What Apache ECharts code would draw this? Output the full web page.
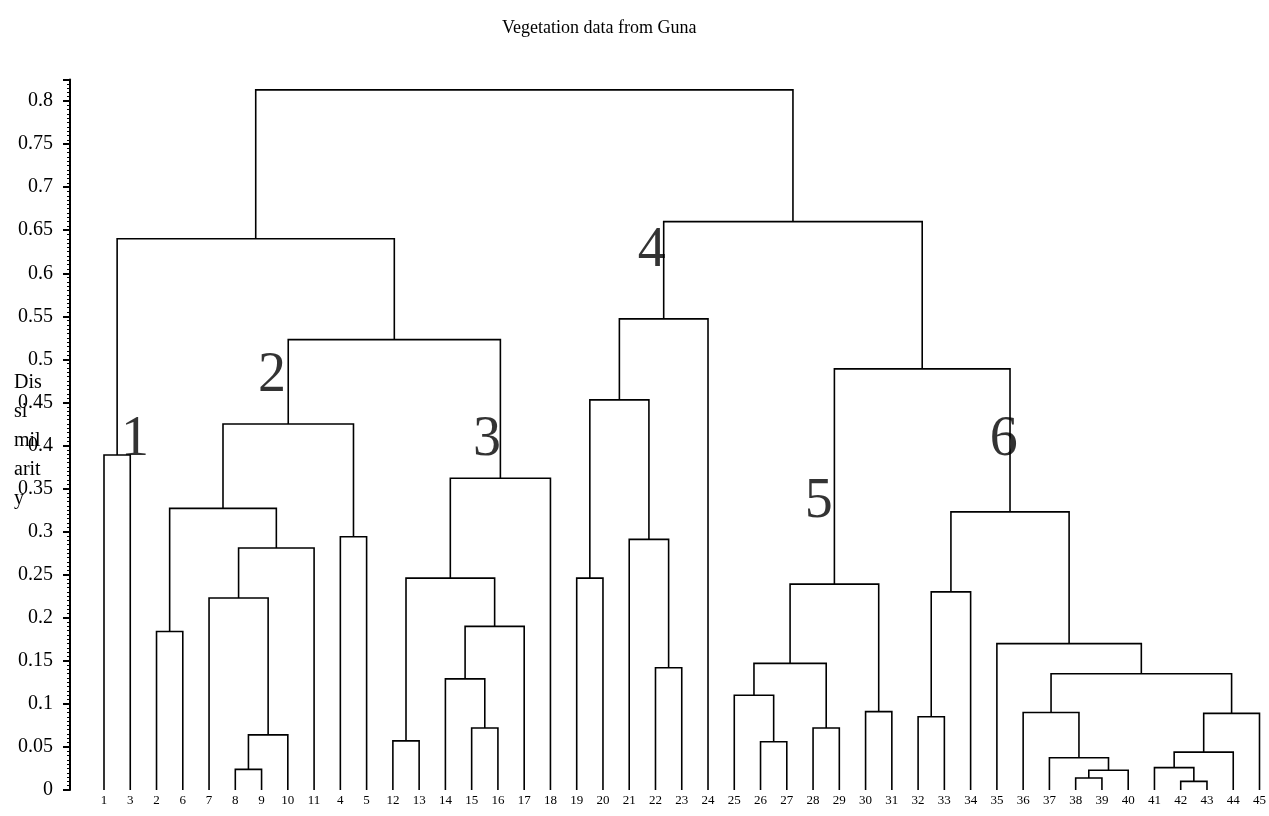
<!DOCTYPE html>
<html>
<head>
<meta charset="utf-8">
<title>Vegetation data from Guna</title>
<script src="https://cdn.jsdelivr.net/npm/echarts@6/dist/echarts.min.js"></script>
<style>
  html, body { margin: 0; padding: 0; background: #fff; }
  #chart { width: 1269px; height: 816px; }
</style>
</head>
<body>
<div id="chart"></div>
<script>
// Leaf order along the bottom of the dendrogram (site numbers)
const leafLabels = ['1','3','2','6','7','8','9','10','11','4','5','12','13','14','15','16','17','18',
  '19','20','21','22','23','24','25','26','27','28','29','30','31','32','33','34','35','36','37',
  '38','39','40','41','42','43','44','45'];

// Agglomeration steps: node ids 0..44 are leaves (by position), merge k creates node 45 + k
const mergeLeft  = [0, 2, 5, 47, 4, 49, 46, 9, 51, 11, 14, 13, 56, 54, 58, 53, 45,
  18, 21, 20, 62, 65, 25, 24, 27, 68, 29, 70, 31, 73, 37, 75, 36, 35, 41, 40, 80, 81, 78, 34, 74, 72, 66, 61];
const mergeRight = [1, 3, 6, 7, 48, 8, 50, 10, 52, 12, 15, 55, 16, 57, 17, 59, 60,
  19, 22, 63, 64, 23, 26, 67, 28, 69, 30, 71, 32, 33, 38, 39, 76, 77, 42, 79, 43, 44, 82, 83, 84, 85, 86, 87];
const mergeHeight = [0.389, 0.184, 0.024, 0.064, 0.223, 0.281, 0.327, 0.294, 0.425, 0.057, 0.072, 0.129, 0.190, 0.246, 0.362, 0.523, 0.640,
  0.246, 0.142, 0.291, 0.453, 0.547, 0.056, 0.110, 0.072, 0.147, 0.091, 0.239, 0.085, 0.230, 0.014, 0.023, 0.0375, 0.090, 0.010, 0.026, 0.044, 0.089, 0.135, 0.170, 0.323, 0.489, 0.660, 0.813];

// Cluster group numbers written on the tree
const groupNames  = ['1', '2', '3', '4', '5', '6'];
const groupLeafX  = [1.18, 6.40, 14.58, 20.86, 27.22, 34.26];
const groupHeight = [0.406, 0.48, 0.406, 0.625, 0.334, 0.406];

// Y axis ticks
const yMin = 0, yMax = 0.825, yStep = 0.05;

// Build the elbow connectors from the merge table
const nodeX = leafLabels.map((_, i) => i);
const nodeH = leafLabels.map(() => 0);
const links = [];
for (let k = 0; k < mergeHeight.length; k++) {
  const a = mergeLeft[k], b = mergeRight[k], h = mergeHeight[k];
  links.push({ coords: [[nodeX[a], nodeH[a]], [nodeX[a], h], [nodeX[b], h], [nodeX[b], nodeH[b]]] });
  nodeX.push((nodeX[a] + nodeX[b]) / 2);
  nodeH.push(h);
}

const serif = '"Liberation Serif", "DejaVu Serif", serif';
const chart = echarts.init(document.getElementById('chart'), null, { renderer: 'canvas' });

chart.setOption({
  backgroundColor: '#ffffff',
  animation: false,
  title: {
    text: 'Vegetation data from Guna',
    left: 497, top: 14,
    textStyle: { fontFamily: serif, fontSize: 18, fontWeight: 'normal', color: '#000' }
  },
  graphic: [{
    type: 'text',
    left: 14, top: 368,
    style: {
      text: 'Dis\nsi\nmil\narit\ny',
      font: '20px ' + serif,
      lineHeight: 29,
      fill: '#000'
    }
  }],
  grid: { left: 104, right: 9, top: 79.5, bottom: 26, containLabel: false },
  xAxis: {
    type: 'value',
    min: 0, max: leafLabels.length - 1, interval: 1,
    axisLine: { show: false },
    axisTick: { show: false },
    splitLine: { show: false },
    axisLabel: {
      show: true, margin: 4,
      fontFamily: serif, fontSize: 13, color: '#000',
      showMinLabel: true, showMaxLabel: true,
      formatter: v => leafLabels[Math.round(v)] || ''
    }
  },
  yAxis: {
    type: 'value',
    min: yMin, max: yMax, interval: yStep,
    offset: 34,
    axisLine: { show: true, onZero: false, lineStyle: { color: '#000', width: 2 } },
    axisTick: { show: true, length: 7, lineStyle: { color: '#000', width: 2 } },
    minorTick: { show: true, splitNumber: 10, length: 3, lineStyle: { color: '#000', width: 1 } },
    splitLine: { show: false },
    axisLabel: {
      margin: 17, fontFamily: serif, fontSize: 20, color: '#000',
      showMaxLabel: false,
      formatter: v => String(parseFloat(v.toFixed(3)))
    }
  },
  series: [
    {
      type: 'lines',
      coordinateSystem: 'cartesian2d',
      polyline: true,
      silent: true,
      lineStyle: { color: '#000', width: 1.6, opacity: 1 },
      data: links
    },
    {
      type: 'scatter',
      symbolSize: 0,
      silent: true,
      data: groupNames.map((n, i) => ({ name: n, value: [groupLeafX[i], groupHeight[i]] })),
      label: {
        show: true, position: 'inside',
        formatter: p => p.name,
        fontFamily: serif, fontSize: 56, color: '#000'
      }
    }
  ]
});
</script>
</body>
</html>
